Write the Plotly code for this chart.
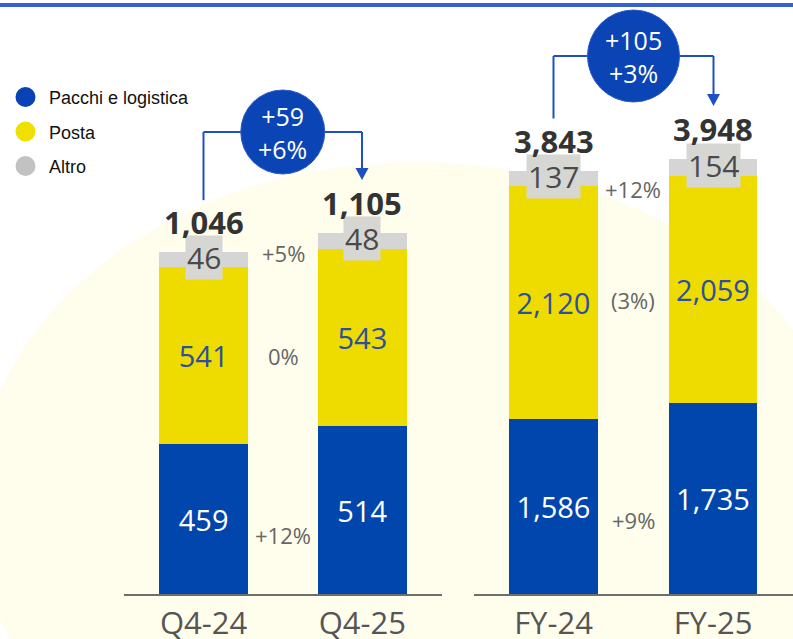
import plotly.graph_objects as go

# ---------------- data ----------------
q4_periods = ["Q4-24", "Q4-25"]
fy_periods = ["FY-24", "FY-25"]
series_names = ["Pacchi e logistica", "Posta", "Altro"]

q4_pacchi = [459, 514]
q4_posta = [541, 543]
q4_altro = [46, 48]

fy_pacchi = [1586, 1735]
fy_posta = [2120, 2059]
fy_altro = [137, 154]

q4_changes = ["+12%", "0%", "+5%"]      # pacchi, posta, altro
fy_changes = ["+9%", "(3%)", "+12%"]

# ---------------- style ----------------
W, H = 793, 639
BASE = 594  # baseline pixel row
BLUE = "#0046AD"
YELLOW = "#EEDC00"
GREY = "#D5D5D5"
LABEL_GREY = "#D6D6D2"
LINE_BLUE = "#1F4FC4"
BUBBLE_BLUE = "#0B45B5"
FONT = "Open Sans"

Q4_SCALE = 0.3268   # px per unit
FY_SCALE = 0.1102

def px(x):
    return x / W

def py(y):
    return 1 - y / H

q4_tot = [a + b + c for a, b, c in zip(q4_pacchi, q4_posta, q4_altro)]
fy_tot = [a + b + c for a, b, c in zip(fy_pacchi, fy_posta, fy_altro)]

fig = go.Figure()

def add_group(periods, pacchi, posta, altro, xa, ya, width):
    fig.add_bar(x=periods, y=pacchi, marker_color=BLUE, width=width,
                text=[f"{v:,}" for v in pacchi], textposition="inside",
                insidetextanchor="middle", textangle=0,
                textfont=dict(family=FONT, size=29, color="white"),
                xaxis=xa, yaxis=ya, showlegend=False, marker_line_width=0,
                name=series_names[0])
    fig.add_bar(x=periods, y=posta, marker_color=YELLOW, width=width,
                text=[f"{v:,}" for v in posta], textposition="inside",
                insidetextanchor="middle", textangle=0,
                textfont=dict(family=FONT, size=29, color="#2D4F9E"),
                xaxis=xa, yaxis=ya, showlegend=False, marker_line_width=0,
                name=series_names[1])
    fig.add_bar(x=periods, y=altro, marker_color=GREY, width=width,
                xaxis=xa, yaxis=ya, showlegend=False, marker_line_width=0,
                name=series_names[2])

add_group(q4_periods, q4_pacchi, q4_posta, q4_altro, "x", "y", 0.562)
add_group(fy_periods, fy_pacchi, fy_posta, fy_altro, "x2", "y2", 0.552)

annotations = []
shapes = []

def group_annots(periods, pacchi, posta, altro, tot, changes, xa, ya, shifts):
    for i, p in enumerate(periods):
        # altro label box
        annotations.append(dict(x=p, y=pacchi[i] + posta[i] + altro[i] / 2, xref=xa, yref=ya,
                                text=f"{altro[i]:,}", showarrow=False, yshift=2,
                                xanchor="center", yanchor="middle",
                                font=dict(family=FONT, size=30, color="#4A4A4A"),
                                bgcolor=LABEL_GREY, borderpad=1))
        # total
        annotations.append(dict(x=p, y=tot[i], xref=xa, yref=ya, text=f"<b>{tot[i]:,}</b>",
                                showarrow=False, yshift=30, xanchor="center", yanchor="middle",
                                font=dict(family=FONT, size=31, color="#333333")))
    # change labels between bars, aligned with first bar segments
    mids = [pacchi[0] / 2, pacchi[0] + posta[0] / 2, pacchi[0] + posta[0] + altro[0] / 2]
    for ch, m, s in zip(changes, mids, shifts):
        annotations.append(dict(x=0.5, y=m, xref=xa, yref=ya, text=ch, showarrow=False,
                                xanchor="center", yanchor="middle",
                                yshift=s, font=dict(family=FONT, size=22, color="#666666")))

group_annots(q4_periods, q4_pacchi, q4_posta, q4_altro, q4_tot, q4_changes, "x", "y", [-16, 0, 7])
group_annots(fy_periods, fy_pacchi, fy_posta, fy_altro, fy_tot, fy_changes, "x2", "y2", [-13, 2, -11])

# bubbles with connectors
def bubble(x_left, x_right, top_left, top_right, scale, cy, r, tot):
    cx = (x_left + x_right) / 2
    yl = BASE - top_left * scale - 52
    yr = BASE - top_right * scale - 53
    shapes.append(dict(type="line", xref="paper", yref="paper", x0=px(x_left), x1=px(x_left),
                       y0=py(yl), y1=py(cy), line=dict(color=LINE_BLUE, width=2)))
    shapes.append(dict(type="line", xref="paper", yref="paper", x0=px(x_left), x1=px(x_right),
                       y0=py(cy), y1=py(cy), line=dict(color=LINE_BLUE, width=2)))
    shapes.append(dict(type="line", xref="paper", yref="paper", x0=px(x_right), x1=px(x_right),
                       y0=py(cy), y1=py(yr - 10), line=dict(color=LINE_BLUE, width=2)))
    shapes.append(dict(type="path", xref="paper", yref="paper",
                       path=f"M {px(x_right-6.5)} {py(yr-12)} L {px(x_right+6.5)} {py(yr-12)} L {px(x_right)} {py(yr)} Z",
                       fillcolor=LINE_BLUE, line=dict(width=0)))
    shapes.append(dict(type="circle", xref="paper", yref="paper", x0=px(cx - r), x1=px(cx + r),
                       y0=py(cy + r), y1=py(cy - r), fillcolor=BUBBLE_BLUE, line=dict(color="#2A5CCB", width=1)))
    d = tot[1] - tot[0]
    pct = round(d / tot[0] * 100)
    annotations.append(dict(x=px(cx), y=py(cy), xref="paper", yref="paper",
                            text=f"+{d}<br>+{pct}%", showarrow=False,
                            xanchor="center", yanchor="middle",
                            font=dict(family=FONT, size=25, color="white")))

bubble(203.5, 362.0, q4_tot[0], q4_tot[1], Q4_SCALE, 132, 42, q4_tot)
bubble(553.5, 713.5, fy_tot[0], fy_tot[1], FY_SCALE, 56, 46, fy_tot)

# background arc and top rule
shapes.insert(0, dict(type="circle", xref="paper", yref="paper", layer="below",
                      x0=px(-25), x1=px(855), y0=py(848), y1=py(162),
                      fillcolor="#FFFDEC", line=dict(width=0)))
shapes.append(dict(type="line", xref="paper", yref="paper", x0=0, x1=1, y0=py(5), y1=py(5),
                   line=dict(color="#3560CF", width=4)))

# legend
legend_colors = ["#0A42B5", "#F0E000", "#C2C2C2"]
for i, (name, c) in enumerate(zip(series_names, legend_colors)):
    cy = 97 + i * 34.5
    shapes.append(dict(type="circle", xref="paper", yref="paper", x0=px(15.5), x1=px(35.5),
                       y0=py(cy + 10), y1=py(cy - 10), fillcolor=c, line=dict(width=0)))
    annotations.append(dict(x=px(47), y=py(cy + 1), xref="paper", yref="paper", text=name,
                            showarrow=False, xanchor="left", yanchor="middle",
                            font=dict(family="Liberation Sans, Arial", size=18, color="#111111")))

axis_common = dict(type="category", range=[-0.5, 1.5], showline=True, linecolor="#6E6E6E",
                   linewidth=2, ticks="", showgrid=False, zeroline=False, ticklabelstandoff=1,
                   automargin=False,
                   tickfont=dict(family=FONT, size=31, color="#555555"), fixedrange=True)

fig.update_layout(
    width=W, height=H, margin=dict(l=0, r=0, t=0, b=0, autoexpand=False),
    paper_bgcolor="white", plot_bgcolor="rgba(0,0,0,0)",
    barmode="stack", showlegend=False,
    xaxis=dict(domain=[px(124.25), px(441.75)], anchor="y", **axis_common),
    xaxis2=dict(domain=[px(473.75), px(792.75)], anchor="y2", **axis_common),
    yaxis=dict(domain=[1 - BASE / H, 1], range=[0, BASE / Q4_SCALE], visible=False, fixedrange=True,
               automargin=False),
    yaxis2=dict(domain=[1 - BASE / H, 1], range=[0, BASE / FY_SCALE], visible=False, fixedrange=True,
                automargin=False, anchor="x2"),
    annotations=annotations, shapes=shapes,
)

fig.write_html("out.html", config={"displayModeBar": False},
               post_script="document.body.style.margin='0px';document.body.style.overflow='hidden';")
